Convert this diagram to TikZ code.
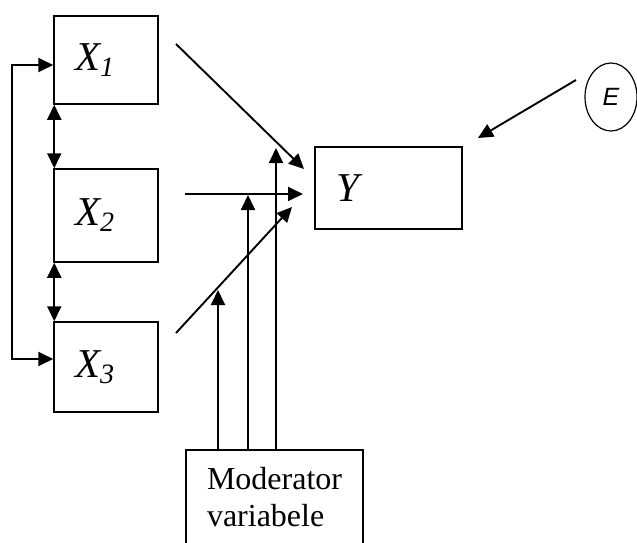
\documentclass[tikz,border=0pt]{standalone}
\usepackage{fontspec}
\setmainfont{Liberation Serif}
\newfontfamily\efont{Liberation Sans}
\usetikzlibrary{arrows.meta,shapes.geometric,positioning}

\newcommand{\xvar}[1]{X\raisebox{-6pt}{\fontsize{28}{28}\selectfont #1}}

\tikzset{
  box/.style={draw,line width=1.5pt,inner xsep=21pt,align=left},
  arr/.style={line width=1.9pt,-{Triangle[length=15pt,width=14pt]}},
  dbl/.style={line width=1.9pt,{Triangle[length=15pt,width=14pt]}-{Triangle[length=15pt,width=14pt]}},
  big/.style={font={\fontsize{41}{41}\selectfont\itshape}},
}

\begin{document}
\begin{tikzpicture}[x=1pt,y=-1pt]
\useasboundingbox (0,0) rectangle (637,543);
\clip (0,0) rectangle (637,543);

% independent variables
\node[box,big,text width=62pt,minimum height=88pt] (X1) at (106,60) {\xvar{1}};
\node[box,big,text width=62pt,minimum height=93pt] (X2) at (106,215.5) {\xvar{2}};
\node[box,big,text width=62pt,minimum height=90pt] (X3) at (106,367) {\xvar{3}};

% dependent variable and error
\node[box,big,text width=105pt,minimum height=82pt] (Y) at (388.5,188) {Y};
\node[ellipse,draw,line width=1.2pt,minimum width=52pt,minimum height=68pt,inner sep=0pt,
  font={\efont\fontsize{25}{25}\selectfont\itshape}] (E) at (611,97) {E};

% moderator
\node[box,text width=135pt,inner ysep=18pt,anchor=north,
  font={\fontsize{32}{37}\selectfont}] (mod) at (274.5,449) {Moderator\\variabele};

\coordinate (a1) at (176,44);  \coordinate (b1) at (304,169);
\coordinate (a2) at (185,194); \coordinate (b2) at (303,194);
\coordinate (a3) at (176,333); \coordinate (b3) at (292,207);
\coordinate (e1) at (576,80);  \coordinate (e2) at (478,138);
\coordinate (m1) at (218,290); \coordinate (m2) at (248,195); \coordinate (m3) at (276,148);

% correlations
\draw[dbl] ([yshift=-5pt]X1.west) -- ++(-41,0) |- ([yshift=8pt]X3.west);
\draw[dbl] ([xshift=1pt]X1.south west) -- ([xshift=1pt]X2.north west);
\draw[dbl] ([xshift=1pt]X2.south west) -- ([xshift=1pt]X3.north west);

% effects
\draw[arr] (a1) -- (b1);
\draw[arr] (a2) -- (b2);
\draw[arr] (a3) -- (b3);
\draw[arr] (e1) -- (e2);

% moderation
\draw[arr] (mod.north -| m1) -- (m1);
\draw[arr] (mod.north -| m2) -- (m2);
\draw[arr] (mod.north -| m3) -- (m3);
\end{tikzpicture}
\end{document}
